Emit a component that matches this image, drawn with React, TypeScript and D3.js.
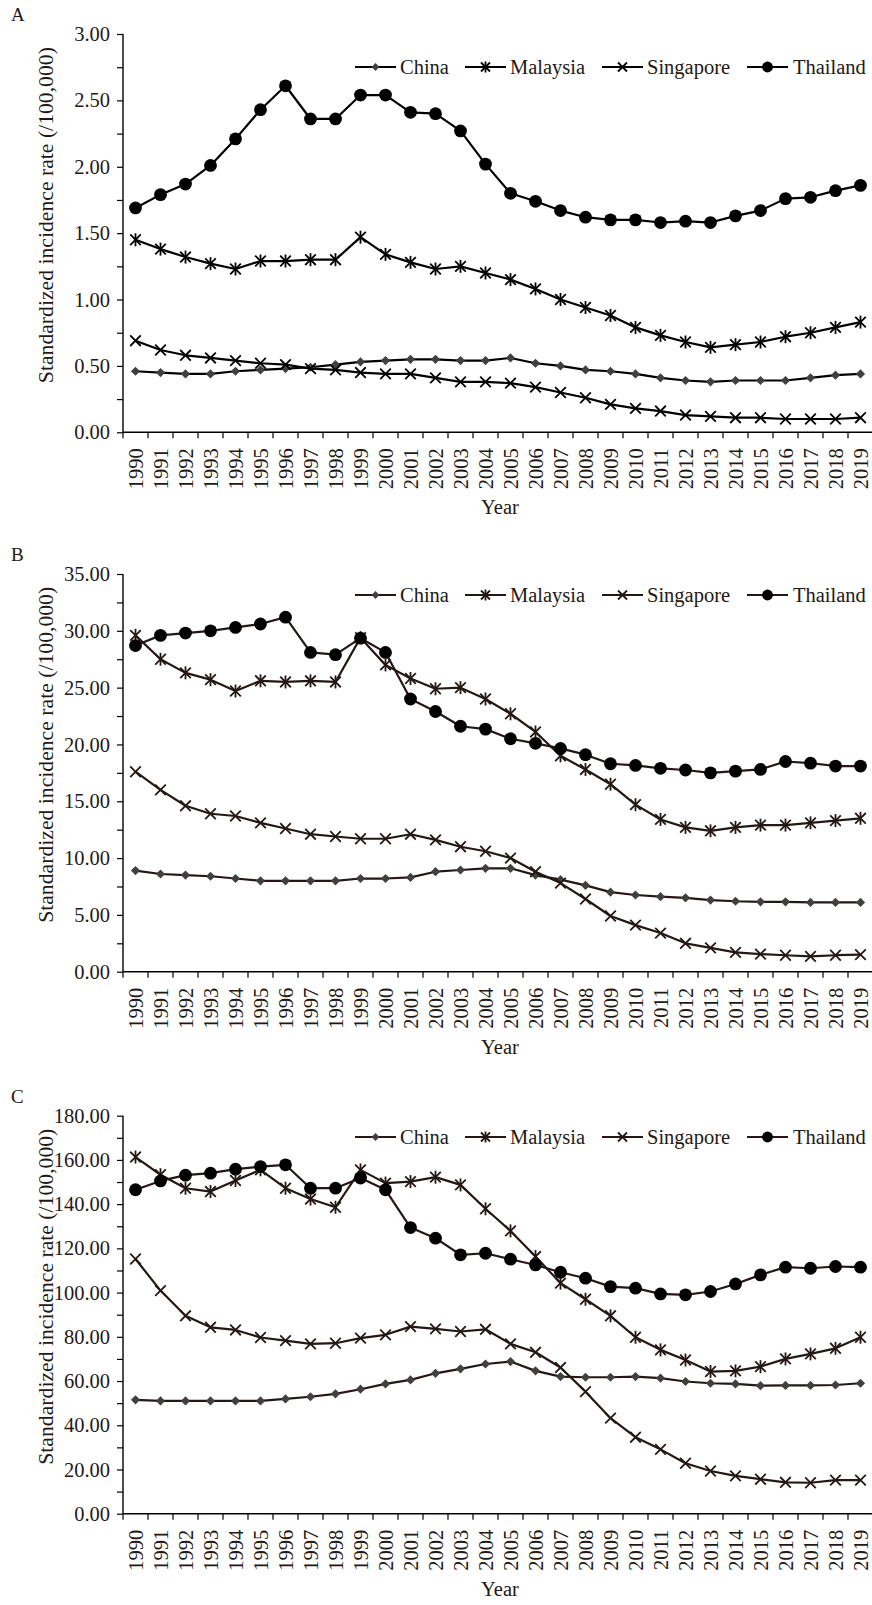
import * as d3 from "d3";
import { useEffect, useRef } from "react";

// years on the x axis
const years = d3.range(1990, 2020).map(String);

const countries = ["China", "Malaysia", "Singapore", "Thailand"];

// panel A
const chinaA = [0.46, 0.45, 0.44, 0.44, 0.46, 0.47, 0.48, 0.49, 0.51, 0.53, 0.54, 0.55, 0.55, 0.54, 0.54, 0.56, 0.52, 0.50, 0.47, 0.46, 0.44, 0.41, 0.39, 0.38, 0.39, 0.39, 0.39, 0.41, 0.43, 0.44];
const malaysiaA = [1.45, 1.38, 1.32, 1.27, 1.23, 1.29, 1.29, 1.30, 1.30, 1.47, 1.34, 1.28, 1.23, 1.25, 1.20, 1.15, 1.08, 1.00, 0.94, 0.88, 0.79, 0.73, 0.68, 0.64, 0.66, 0.68, 0.72, 0.75, 0.79, 0.83];
const singaporeA = [0.69, 0.62, 0.58, 0.56, 0.54, 0.52, 0.51, 0.48, 0.47, 0.45, 0.44, 0.44, 0.41, 0.38, 0.38, 0.37, 0.34, 0.30, 0.26, 0.21, 0.18, 0.16, 0.13, 0.12, 0.11, 0.11, 0.10, 0.10, 0.10, 0.11];
const thailandA = [1.69, 1.79, 1.87, 2.01, 2.21, 2.43, 2.61, 2.36, 2.36, 2.54, 2.54, 2.41, 2.40, 2.27, 2.02, 1.80, 1.74, 1.67, 1.62, 1.60, 1.60, 1.58, 1.59, 1.58, 1.63, 1.67, 1.76, 1.77, 1.82, 1.86];

// panel B
const chinaB = [8.9, 8.6, 8.5, 8.4, 8.2, 8.0, 8.0, 8.0, 8.0, 8.2, 8.2, 8.3, 8.8, 8.95, 9.1, 9.1, 8.5, 8.1, 7.6, 7.0, 6.75, 6.6, 6.5, 6.3, 6.2, 6.15, 6.15, 6.1, 6.1, 6.1];
const malaysiaB = [29.6, 27.5, 26.3, 25.7, 24.7, 25.6, 25.5, 25.6, 25.5, 29.4, 27.0, 25.8, 24.9, 25.0, 24.0, 22.7, 21.1, 19.0, 17.8, 16.5, 14.7, 13.4, 12.7, 12.4, 12.7, 12.9, 12.9, 13.1, 13.3, 13.5];
const singaporeB = [17.6, 16.0, 14.6, 13.9, 13.7, 13.1, 12.6, 12.1, 11.9, 11.7, 11.7, 12.1, 11.6, 11.0, 10.6, 10.0, 8.8, 7.8, 6.4, 4.9, 4.1, 3.4, 2.5, 2.1, 1.7, 1.55, 1.45, 1.35, 1.45, 1.5];
const thailandB = [28.7, 29.6, 29.8, 30.0, 30.3, 30.6, 31.2, 28.1, 27.9, 29.35, 28.1, 24.0, 22.9, 21.6, 21.35, 20.5, 20.1, 19.65, 19.1, 18.3, 18.15, 17.9, 17.75, 17.5, 17.65, 17.8, 18.5, 18.35, 18.1, 18.1];

// panel C
const chinaC = [51.5, 51.0, 51.0, 51.0, 51.0, 51.0, 51.9, 52.9, 54.2, 56.3, 58.7, 60.5, 63.5, 65.5, 67.7, 68.8, 64.6, 62.0, 61.7, 61.7, 62.0, 61.3, 59.8, 59.0, 58.7, 57.9, 58.0, 58.0, 58.2, 59.0];
const malaysiaC = [161.3, 153.3, 147.2, 145.7, 150.7, 155.5, 147.2, 142.3, 138.6, 155.5, 149.5, 150.2, 152.2, 148.7, 137.9, 127.9, 116.3, 104.3, 97.0, 89.5, 79.8, 74.1, 69.5, 64.3, 64.6, 66.5, 70.0, 72.3, 74.8, 79.8];
const singaporeC = [115.2, 100.9, 89.5, 84.3, 83.1, 79.7, 78.3, 76.8, 77.1, 79.4, 80.9, 84.6, 83.6, 82.4, 83.4, 76.8, 73.0, 66.1, 55.2, 43.2, 34.6, 29.1, 22.8, 19.3, 17.1, 15.6, 14.2, 14.0, 15.2, 15.2];
const thailandC = [146.5, 150.5, 153.1, 154.0, 155.8, 157.0, 157.8, 147.2, 147.2, 151.8, 146.5, 129.4, 124.6, 117.1, 117.8, 115.1, 112.5, 109.2, 106.5, 102.7, 102.0, 99.4, 99.0, 100.5, 103.9, 108.0, 111.5, 111.0, 111.8, 111.5];

const panels = [
    { label: "A", top: 34, bottom: 432.3, max: 3, major: 0.5, minor: 0.25, legendY: 67, color: "#000000",
      series: [chinaA, malaysiaA, singaporeA, thailandA] },
    { label: "B", top: 574, bottom: 971.7, max: 35, major: 5, minor: 2.5, legendY: 595, color: "#231815",
      series: [chinaB, malaysiaB, singaporeB, thailandB] },
    { label: "C", top: 1115.7, bottom: 1513.7, max: 180, major: 20, minor: 10, legendY: 1137, color: "#231815",
      series: [chinaC, malaysiaC, singaporeC, thailandC] },
];

const W = 872;
const H = 1605;
const left = 123;
const font = "'Liberation Serif', 'Times New Roman', serif";

// legend item positions: line start, text start
const legendPos = [
    { x: 355, tx: 400 },
    { x: 465, tx: 510 },
    { x: 602, tx: 647 },
    { x: 747, tx: 793 },
];

// marker drawing
function drawMarker(g, kind, x, y, col, small = false) {
    const k = small ? 0.85 : 1;
    if (kind === 0) {
        const r = 4.6 * k;
        g.append("path")
            .attr("d", `M${x},${y - r}L${x + r},${y}L${x},${y + r}L${x - r},${y}Z`)
            .attr("fill", "#404040");
    } else if (kind === 1 || kind === 2) {
        const r = 5.3 * k;
        g.append("path")
            .attr("d", `M${x - r},${y - r}L${x + r},${y + r}M${x - r},${y + r}L${x + r},${y - r}`)
            .attr("stroke", col).attr("stroke-width", 1.8).attr("fill", "none");
        if (kind === 1) {
            g.append("path")
                .attr("d", `M${x},${y - 6.5 * k}L${x},${y + 6.5 * k}`)
                .attr("stroke", col).attr("stroke-width", 1.8);
        }
    } else {
        g.append("circle").attr("cx", x).attr("cy", y).attr("r", 6.4 * k).attr("fill", "#000");
    }
}

const App = () => {
    const ref = useRef(null);

    useEffect(() => {
        const svg = d3.select(ref.current);
        svg.selectAll("*").remove();

        const x = d3.scaleBand().domain(years).range([left, left + 750]);

        panels.forEach(p => {
            const g = svg.append("g");
            const y = d3.scaleLinear().domain([0, p.max]).range([p.bottom, p.top]);

            // panel letter
            g.append("text").attr("x", 11).attr("y", p.top - 13)
                .attr("font-size", 19).attr("font-family", font).attr("fill", "#231815")
                .text(p.label);

            // y axis with minor ticks
            const yAxis = d3.axisLeft(y)
                .tickValues(d3.range(0, p.max + p.minor / 2, p.minor))
                .tickSize(6)
                .tickPadding(7)
                .tickFormat(d => (Math.abs(d / p.major - Math.round(d / p.major)) < 1e-6 ? d3.format(".2f")(d) : ""));
            const ya = g.append("g").attr("transform", `translate(${left},0)`).call(yAxis);
            ya.select(".domain").attr("d", `M0,${p.top}V${p.bottom}`).attr("stroke-width", 1.4);
            ya.selectAll("line").attr("stroke-width", 1.2);
            ya.selectAll("text").attr("font-size", 20.5).attr("font-family", font).attr("fill", "#231815");

            // x axis
            const xa = g.append("g").attr("transform", `translate(0,${p.bottom})`)
                .call(d3.axisBottom(x).tickSize(0).tickFormat(() => ""));
            xa.select(".domain").attr("d", `M${left},0H${left + 750}`).attr("stroke-width", 1.4);
            // ticks at band edges
            g.selectAll(null).data(d3.range(0, years.length + 1)).enter().append("line")
                .attr("x1", i => left + i * x.step()).attr("x2", i => left + i * x.step())
                .attr("y1", p.bottom).attr("y2", p.bottom + 6)
                .attr("stroke", "#000").attr("stroke-width", 1.2);
            g.selectAll(null).data(years).enter().append("text")
                .attr("transform", d => `translate(${x(d) + x.bandwidth() / 2},${p.bottom + 16}) rotate(-90)`)
                .attr("text-anchor", "end").attr("dy", "0.35em")
                .attr("font-size", 20.5).attr("font-family", font).attr("fill", "#231815")
                .text(d => d);

            g.append("text").attr("x", 500).attr("y", p.bottom + 82)
                .attr("text-anchor", "middle")
                .attr("font-size", 20.5).attr("font-family", font).attr("fill", "#231815")
                .text("Year");

            g.append("text")
                .attr("transform", `translate(45,${(p.top + p.bottom) / 2 - 18}) rotate(-90)`)
                .attr("text-anchor", "middle").attr("dy", "0.35em")
                .attr("font-size", 21.7).attr("font-family", font).attr("fill", "#231815")
                .text("Standardized incidence rate (/100,000)");

            // lines and markers
            const line = d3.line().x((d, i) => x(years[i]) + x.bandwidth() / 2).y(d => y(d));
            p.series.forEach((vals, k) => {
                g.append("path").datum(vals).attr("d", line)
                    .attr("fill", "none").attr("stroke", p.color).attr("stroke-width", 2.2)
                    .attr("stroke-linejoin", "round");
                vals.forEach((v, i) => drawMarker(g, k, x(years[i]) + x.bandwidth() / 2, y(v), p.color));
            });

            // legend
            countries.forEach((c, k) => {
                const lp = legendPos[k];
                g.append("line").attr("x1", lp.x).attr("x2", lp.x + 41)
                    .attr("y1", p.legendY).attr("y2", p.legendY)
                    .attr("stroke", p.color).attr("stroke-width", 2.2);
                drawMarker(g, k, lp.x + 20.5, p.legendY, p.color, true);
                g.append("text").attr("x", lp.tx).attr("y", p.legendY).attr("dy", "0.35em")
                    .attr("font-size", 20.5).attr("font-family", font).attr("fill", "#231815")
                    .text(c);
            });
        });
    }, []);

    return (
        <svg ref={ref} width={W} height={H}
            style={{ position: "absolute", left: 0, top: 0, background: "#fff" }} />
    );
};

export default App;
